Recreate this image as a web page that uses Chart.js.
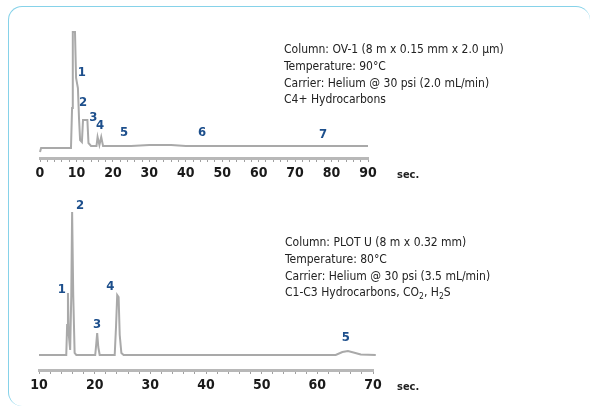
<!DOCTYPE html>
<html>
<head>
<meta charset="utf-8">
<script src="https://cdn.jsdelivr.net/npm/chart.js@4"></script>
<style>
  body { margin: 0; background: #fff; }
  #wrap { position: relative; width: 592px; height: 408px; overflow: hidden; }
  #frame {
    position: absolute; left: 8px; top: 6px; width: 582px; height: 400px;
    border-top: 1.5px solid #86d2e9; border-left: 1.5px solid #86d2e9;
    border-radius: 14px; box-sizing: border-box;
  }
  .chart { position: absolute; left: 0; width: 592px; }
  #topBox { top: 0; height: 200px; }
  #botBox { top: 200px; height: 208px; }
  .info {
    position: absolute; font-family: 'Liberation Sans Narrow', 'DejaVu Sans Condensed', sans-serif;
    font-size: 12px; line-height: 16.8px; color: #222; white-space: nowrap;
  }
  .info sub { font-size: 8.5px; vertical-align: -3px; line-height: 0; }
</style>
</head>
<body>
<div id="wrap">
  <div id="frame"></div>
  <div class="chart" id="topBox"><canvas id="topChart"></canvas></div>
  <div class="chart" id="botBox"><canvas id="botChart"></canvas></div>
  <div class="info" style="left:284px; top:41px;">
    Column: OV-1 (8 m x 0.15 mm x 2.0 µm)<br>
    Temperature: 90°C<br>
    Carrier: Helium @ 30 psi (2.0 mL/min)<br>
    C4+ Hydrocarbons
  </div>
  <div class="info" style="left:285px; top:234px;">
    Column: PLOT U (8 m x 0.32 mm)<br>
    Temperature: 80°C<br>
    Carrier: Helium @ 30 psi (3.5 mL/min)<br>
    C1-C3 Hydrocarbons, CO<sub>2</sub>, H<sub>2</sub>S
  </div>
</div>
<script>
// --- Top chromatogram (OV-1) ---
const topTimes  = [0, 0.3, 8.5, 8.8, 9.0, 9.6, 9.9, 10.4, 10.7, 11.0, 11.5, 11.8, 13.0, 13.3, 14.0, 15.5, 15.8, 16.3, 16.8, 17.3, 25, 30, 36, 40, 60, 90];
const topSignal = [-4, 0, 0, 40, 116, 116, 70, 60, 30, 8, 6, 28, 28, 5, 2, 2, 11, 3, 11, 2, 2, 3, 3, 2, 2, 2];
const topPeakIds     = ['1', '2', '3', '4', '5', '6', '7'];
const topPeakTimes   = [11.5, 11.8, 14.6, 16.5, 23.1, 44.5, 77.7];
const topPeakHeights = [75, 45, 30, 22, 15, 15, 13];
const topTickLabels  = [0, 10, 20, 30, 40, 50, 60, 70, 80, 90];

// --- Bottom chromatogram (PLOT U) ---
const botTimes  = [10, 14.9, 15.05, 15.2, 15.35, 15.6, 15.8, 15.95, 16.15, 16.4, 16.7, 20.1, 20.3, 20.45, 20.65, 20.9, 23.6, 23.85, 24.05, 24.3, 24.5, 24.8, 25.2, 63.3, 64.5, 65.5, 66.5, 67.8, 70.5];
const botSignal = [0, 0, 30, 62, 20, 5, 60, 143, 60, 2, 0, 0, 12, 22, 8, 0, 0, 30, 60, 58, 20, 2, 0, 0, 3, 4, 2.5, 0.5, 0];
const botPeakIds     = ['1', '2', '3', '4', '5'];
const botPeakTimes   = [14.1, 17.4, 20.45, 22.8, 65.1];
const botPeakHeights = [65, 149, 30, 68, 17];
const botTickLabels  = [10, 20, 30, 40, 50, 60, 70];

const FONT = "'Liberation Sans Narrow', 'DejaVu Sans Condensed', sans-serif";

// draws the blue peak numbers and the "sec." unit
const peakLabels = {
  id: 'peakLabels',
  afterDatasetsDraw(chart, args, opts) {
    const ctx = chart.ctx;
    const xs = chart.scales.x, ys = chart.scales.y;
    ctx.save();
    ctx.font = 'bold 13px ' + FONT;
    ctx.fillStyle = '#1d4f8c';
    ctx.textAlign = 'center';
    ctx.textBaseline = 'middle';
    opts.ids.forEach((id, i) => {
      ctx.fillText(id, xs.getPixelForValue(opts.times[i]), ys.getPixelForValue(opts.heights[i]));
    });
    ctx.fillStyle = '#222';
    ctx.font = 'bold 11px ' + FONT;
    ctx.textAlign = 'left';
    ctx.fillText('sec.', 397, ys.bottom + 17);
    ctx.restore();
  }
};

function makeChart(canvasId, times, signal, xMin, xMax, yMin, yMax, tickLabels, pad, labels) {
  const ctx = document.getElementById(canvasId).getContext('2d');
  return new Chart(ctx, {
    type: 'line',
    data: {
      datasets: [{
        data: times.map((t, i) => ({ x: t, y: signal[i] })),
        borderColor: '#a9a9a9',
        borderWidth: 2,
        pointRadius: 0,
        tension: 0,
        clip: 6
      }]
    },
    options: {
      responsive: true,
      maintainAspectRatio: false,
      animation: false,
      layout: { padding: pad },
      plugins: { legend: { display: false }, tooltip: { enabled: false }, peakLabels: labels },
      scales: {
        x: {
          type: 'linear', min: xMin, max: xMax,
          afterFit: scale => { scale.height = 30; },
          ticks: {
            stepSize: 2, autoSkip: false, maxRotation: 0, padding: 3,
            color: '#1a1a1a', font: { family: FONT, size: 14, weight: 'bold' },
            callback: v => tickLabels.includes(v) ? String(v) : ''
          },
          grid: { drawOnChartArea: false, drawTicks: true, tickLength: 4, color: '#a0a0a0', lineWidth: 1 },
          border: { display: true, color: '#b8b8b8', width: 3 }
        },
        y: { display: false, min: yMin, max: yMax }
      }
    },
    plugins: [peakLabels]
  });
}

makeChart('topChart', topTimes, topSignal, 0, 90, -10, 116, topTickLabels,
  { left: 40, right: 224, top: 32, bottom: 12 },
  { ids: topPeakIds, times: topPeakTimes, heights: topPeakHeights });

makeChart('botChart', botTimes, botSignal, 10, 70, -15, 143, botTickLabels,
  { left: 39, right: 219, top: 12, bottom: 8 },
  { ids: botPeakIds, times: botPeakTimes, heights: botPeakHeights });
</script>
</body>
</html>
